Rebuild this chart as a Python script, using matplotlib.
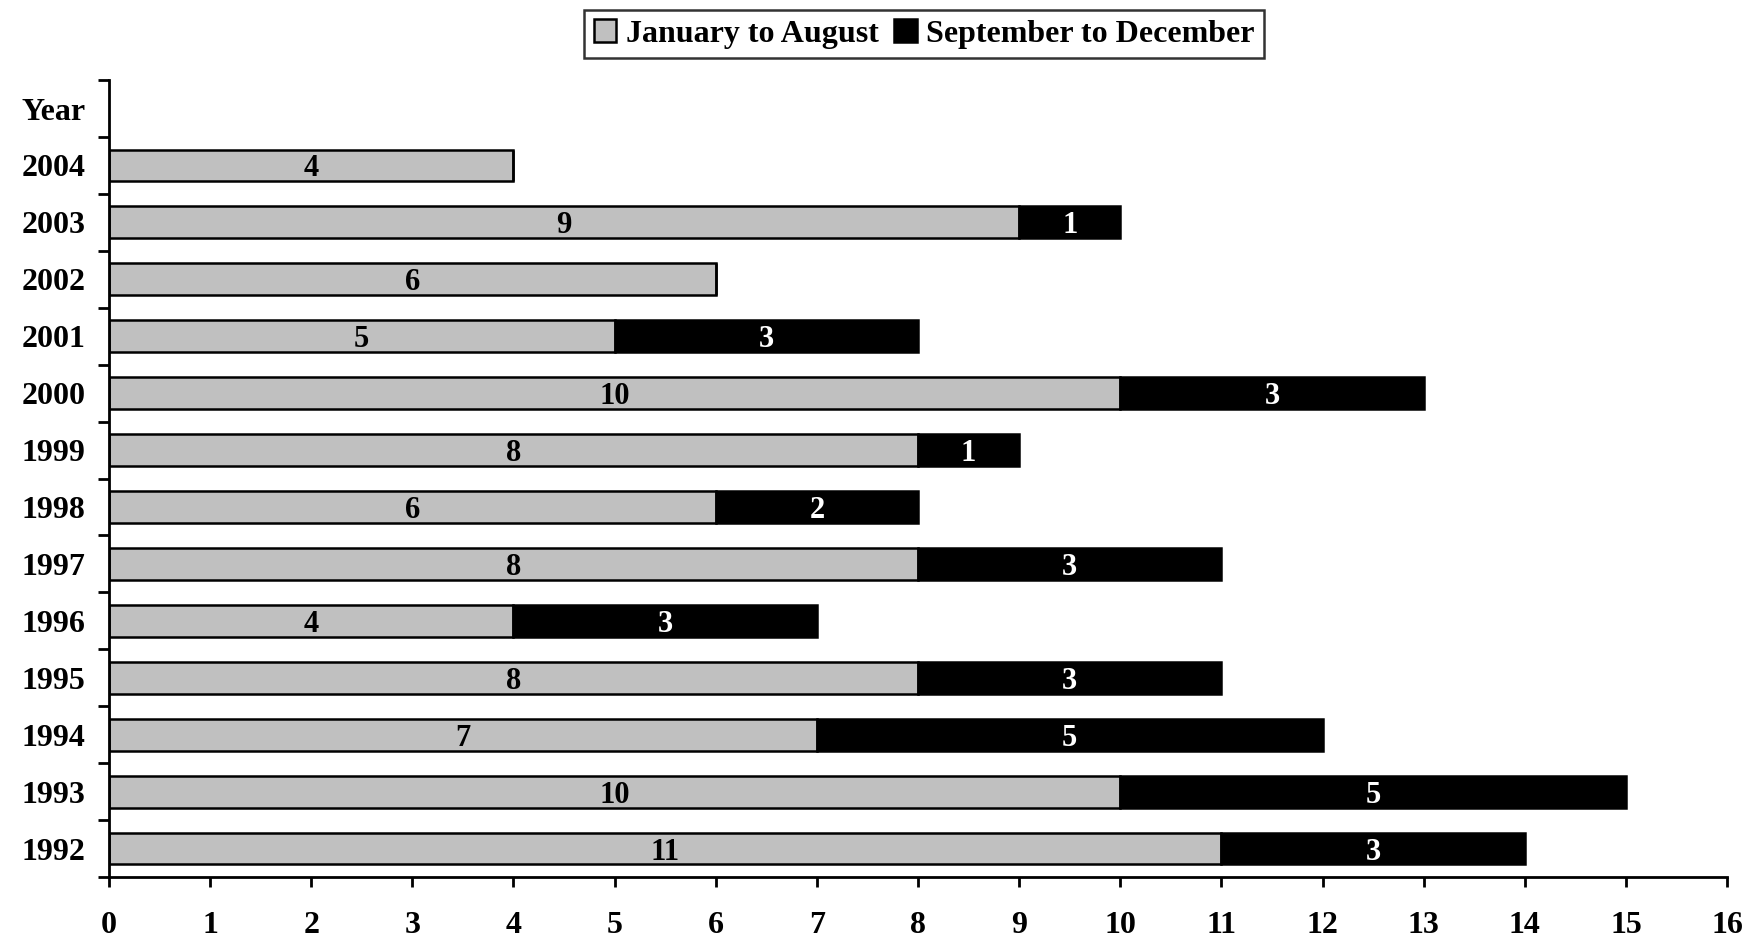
import matplotlib.pyplot as plt
import numpy as np

years = ['1992', '1993', '1994', '1995', '1996', '1997', '1998',
         '1999', '2000', '2001', '2002', '2003', '2004']
jan_aug = [11, 10, 7, 8, 4, 8, 6, 8, 10, 5, 6, 9, 4]
sep_dec = [3, 5, 5, 3, 3, 3, 2, 1, 3, 3, 0, 1, 0]

plt.rcParams['font.family'] = ['Liberation Serif', 'DejaVu Serif']
plt.rcParams['font.weight'] = 'bold'

fig = plt.figure(figsize=(17.57, 9.42), dpi=100)
ax = fig.add_axes([0.062, 0.069, 0.921, 0.846])

labels = years + ['Year']
ind = np.arange(len(years))
gray = '#c0c0c0'
b1 = ax.barh(ind, jan_aug, 0.56, color=gray, edgecolor='black', linewidth=1.8,
             label='January to August')
b2 = ax.barh(ind, sep_dec, 0.56, left=jan_aug, color='black', edgecolor='black',
             linewidth=1.8, label='September to December')

for i in ind:
    ax.text(jan_aug[i] / 2, i, str(jan_aug[i]), ha='center', va='center_baseline',
            fontsize=22, fontweight='bold', color='black')
    if sep_dec[i] > 0:
        ax.text(jan_aug[i] + sep_dec[i] / 2, i, str(sep_dec[i]), ha='center',
                va='center_baseline', fontsize=22, fontweight='bold', color='white')

ax.set_xlim(0, 16)
ax.set_ylim(-0.5, len(labels) - 0.5)
ax.set_xticks(range(0, 17))
ax.tick_params(axis='x', direction='out', length=7.5, width=2, pad=17, labelsize=23)

# boundary ticks on the y axis, labels at category centres
ax.set_yticks(np.arange(-0.5, len(labels), 1.0))
ax.set_yticklabels([])
ax.tick_params(axis='y', which='major', direction='out', length=8, width=2)
ax.set_yticks(np.arange(len(labels)), minor=True)
ax.set_yticklabels(labels, minor=True)
ax.tick_params(axis='y', which='minor', length=0, pad=17, labelsize=23)

for s in ['top', 'right']:
    ax.spines[s].set_visible(False)
for s in ['left', 'bottom']:
    ax.spines[s].set_linewidth(2)

leg = fig.legend(handles=[b1, b2], loc='upper center', bbox_to_anchor=(0.526, 1.0),
                 ncol=2, frameon=True, fancybox=False, edgecolor='black',
                 fontsize=23, handlelength=0.7, handleheight=0.7,
                 handletextpad=0.3, columnspacing=0.5, borderpad=0.3,
                 borderaxespad=0.3)
leg.get_frame().set_linewidth(1.8)

fig.savefig('out.png', dpi=100)
